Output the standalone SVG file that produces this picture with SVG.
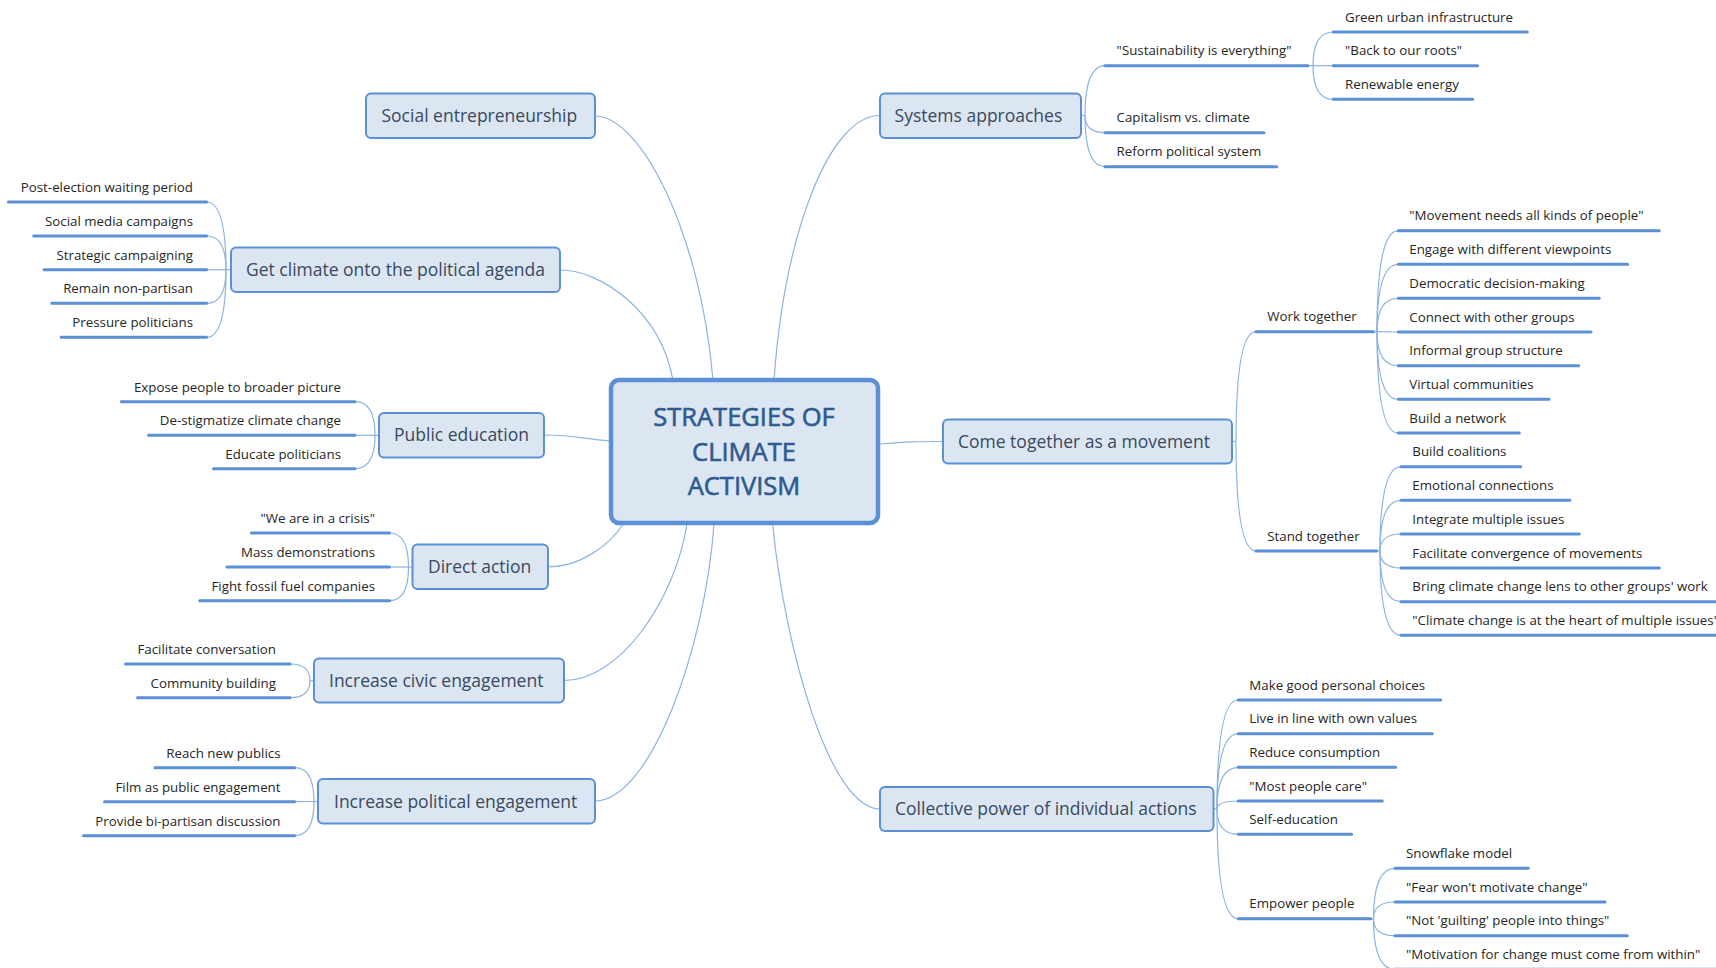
<svg xmlns="http://www.w3.org/2000/svg" width="1716" height="968" viewBox="0 0 1716 968">
<style>
text{font-family:"Open Sans","Liberation Sans",sans-serif}
.box{fill:#dce6f2;stroke:#5b8fd6;stroke-width:2}
.center{fill:#dce6f2;stroke:#5b8fd6;stroke-width:4.5}
.ct{font-size:25.5px;fill:#2e5b8f;stroke:#2e5b8f;stroke-width:0.6;text-anchor:middle}
.mt{font-size:17.5px;fill:#384960}
.lt{font-size:13.3px;fill:#262626}
.le{text-anchor:end}
.ul{stroke:#5b8fd6;stroke-width:3;stroke-linecap:round;fill:none}
.c{fill:none;stroke:#8db3e2;stroke-width:1.2}
</style>
<rect width="1716" height="968" fill="#ffffff"/>

<g id="connectors">
<path class="c" d="M595 116 C640 116 700 230 713 380"/>
<path class="c" d="M560 270 C600 270 660 310 673 380"/>
<path class="c" d="M544 435 C575 435 590 440 611 441"/>
<path class="c" d="M548 567 C580 567 610 545 623 524"/>
<path class="c" d="M564 680.5 C620 680.5 675 600 687 524"/>
<path class="c" d="M595 801 C650 801 705 650 714 524"/>
<path class="c" d="M880 115.5 C830 115.5 785 230 774 380"/>
<path class="c" d="M879 444 C910 441.5 915 441.5 943 441.5"/>
<path class="c" d="M880 809 C830 809 785 650 772.6 524"/>

<path class="c" d="M231 269.7 L226 269.7"/>
<path class="c" d="M226 269.7 Q226 202 206.6 202"/>
<path class="c" d="M226 269.7 Q226 236 206.6 236"/>
<path class="c" d="M226 269.7 L206.6 269.7"/>
<path class="c" d="M226 269.7 Q226 303.3 206.6 303.3"/>
<path class="c" d="M226 269.7 Q226 337.3 206.6 337.3"/>

<path class="c" d="M379 435.3 L375 435.3"/>
<path class="c" d="M375 435.3 Q375 401.7 355 401.7"/>
<path class="c" d="M375 435.3 L355 435.3"/>
<path class="c" d="M375 435.3 Q375 468.7 355 468.7"/>

<path class="c" d="M412.5 567 L408.5 567"/>
<path class="c" d="M408.5 567 Q408.5 533 389.5 533"/>
<path class="c" d="M408.5 567 L389.5 567"/>
<path class="c" d="M408.5 567 Q408.5 600.7 389.5 600.7"/>

<path class="c" d="M314 680.8 L310 680.8"/>
<path class="c" d="M310 680.8 Q310 664 290 664"/>
<path class="c" d="M310 680.8 Q310 697.7 290 697.7"/>

<path class="c" d="M318 801.5 L314 801.5"/>
<path class="c" d="M314 801.5 Q314 767.7 294.6 767.7"/>
<path class="c" d="M314 801.5 L294.6 801.7"/>
<path class="c" d="M314 801.5 Q314 835.7 294.6 835.7"/>

<path class="c" d="M1081 115.5 L1085 115.5"/>
<path class="c" d="M1085 115.5 Q1085 65.7 1105 65.7"/>
<path class="c" d="M1085 115.5 Q1085 132.7 1105 132.7"/>
<path class="c" d="M1085 115.5 Q1085 166.7 1105 166.7"/>

<path class="c" d="M1308 65.7 L1313 65.7"/>
<path class="c" d="M1313 65.7 Q1313 32 1333.3 32"/>
<path class="c" d="M1313 65.7 L1333.3 65.7"/>
<path class="c" d="M1313 65.7 Q1313 99.3 1333.3 99.3"/>

<path class="c" d="M1232 441.5 L1236 441.5"/>
<path class="c" d="M1236 441.5 Q1236 331.7 1256 331.7"/>
<path class="c" d="M1236 441.5 Q1236 551 1256 551"/>

<path class="c" d="M1373.3 331.7 L1377 331.7"/>
<path class="c" d="M1377 331.7 Q1377 230.7 1398.3 230.7"/>
<path class="c" d="M1377 331.7 Q1377 264.3 1398.3 264.3"/>
<path class="c" d="M1377 331.7 Q1377 298.3 1398.3 298.3"/>
<path class="c" d="M1377 331.7 L1398.3 332"/>
<path class="c" d="M1377 331.7 Q1377 365.7 1398.3 365.7"/>
<path class="c" d="M1377 331.7 Q1377 399.3 1398.3 399.3"/>
<path class="c" d="M1377 331.7 Q1377 433 1398.3 433"/>

<path class="c" d="M1376.7 551 L1380 551"/>
<path class="c" d="M1380 551 Q1380 466.7 1401 466.7"/>
<path class="c" d="M1380 551 Q1380 500.3 1401 500.3"/>
<path class="c" d="M1380 551 Q1380 534 1401 534"/>
<path class="c" d="M1380 551 Q1380 568 1401 568"/>
<path class="c" d="M1380 551 Q1380 601.7 1401 601.7"/>
<path class="c" d="M1380 551 Q1380 635.3 1401 635.3"/>

<path class="c" d="M1213.5 809 L1217 809"/>
<path class="c" d="M1217 809 Q1217 700 1238.3 700"/>
<path class="c" d="M1217 809 Q1217 733.7 1238.3 733.7"/>
<path class="c" d="M1217 809 Q1217 767.3 1238.3 767.3"/>
<path class="c" d="M1217 809 Q1217 801 1238.3 801"/>
<path class="c" d="M1217 809 Q1217 834.3 1238.3 834.3"/>
<path class="c" d="M1217 809 Q1217 918.7 1238.3 918.7"/>

<path class="c" d="M1370.7 918.7 L1373.5 918.7"/>
<path class="c" d="M1373.5 918.7 Q1373.5 868.3 1395 868.3"/>
<path class="c" d="M1373.5 918.7 Q1373.5 902 1395 902"/>
<path class="c" d="M1373.5 918.7 Q1373.5 935.7 1395 935.7"/>
<path class="c" d="M1373.5 918.7 Q1373.5 969.3 1395 969.3"/>
</g>

<g id="center">
<rect class="center" x="611" y="380" width="267" height="143" rx="8"/>
<text class="ct" x="744" y="425.5">STRATEGIES OF</text>
<text class="ct" x="744" y="460.5">CLIMATE</text>
<text class="ct" x="744" y="495">ACTIVISM</text>
</g>

<g id="n-social">
<rect class="box" x="366" y="93.5" width="229" height="44.5" rx="5"/>
<text class="mt" x="381.5" y="122">Social entrepreneurship</text>
</g>
<g id="n-agenda">
<rect class="box" x="231" y="247.5" width="329" height="44.5" rx="5"/>
<text class="mt" x="246" y="275.5">Get climate onto the political agenda</text>
</g>
<g id="n-public">
<rect class="box" x="379" y="413" width="165" height="44.5" rx="5"/>
<text class="mt" x="394" y="440.5">Public education</text>
</g>
<g id="n-direct">
<rect class="box" x="412.5" y="544.5" width="135.5" height="44.5" rx="5"/>
<text class="mt" x="428" y="572.5">Direct action</text>
</g>
<g id="n-civic">
<rect class="box" x="314" y="658.5" width="250" height="44" rx="5"/>
<text class="mt" x="329" y="686.5">Increase civic engagement</text>
</g>
<g id="n-political">
<rect class="box" x="318" y="779" width="277" height="44.5" rx="5"/>
<text class="mt" x="334" y="807.5">Increase political engagement</text>
</g>
<g id="n-systems">
<rect class="box" x="880" y="93.5" width="201" height="44.5" rx="5"/>
<text class="mt" x="894.6" y="122">Systems approaches</text>
</g>
<g id="n-movement">
<rect class="box" x="943" y="419.5" width="289" height="44" rx="5"/>
<text class="mt" x="958" y="447.5">Come together as a movement</text>
</g>
<g id="n-collective">
<rect class="box" x="880" y="787" width="333.5" height="44" rx="5"/>
<text class="mt" x="895" y="815">Collective power of individual actions</text>
</g>

<g id="l-agenda">
<path class="ul" d="M8.4 202H206.6M33.7 236H206.6M44 269.7H206.6M51.7 303.3H206.6M61.2 337.3H206.6"/>
<text class="lt le" x="193" y="192">Post-election waiting period</text>
<text class="lt le" x="193" y="226">Social media campaigns</text>
<text class="lt le" x="193" y="259.7">Strategic campaigning</text>
<text class="lt le" x="193" y="293.3">Remain non-partisan</text>
<text class="lt le" x="193" y="327.3">Pressure politicians</text>
</g>
<g id="l-public">
<path class="ul" d="M121.3 401.7H355M148.5 435.3H355M213.5 468.7H355"/>
<text class="lt le" x="341" y="391.7">Expose people to broader picture</text>
<text class="lt le" x="341" y="425.3">De-stigmatize climate change</text>
<text class="lt le" x="341" y="458.7">Educate politicians</text>
</g>
<g id="l-direct">
<path class="ul" d="M251.4 533H389.5M226.9 567H389.5M199.7 600.7H389.5"/>
<text class="lt le" x="375" y="523">"We are in a crisis"</text>
<text class="lt le" x="375" y="557">Mass demonstrations</text>
<text class="lt le" x="375" y="590.7">Fight fossil fuel companies</text>
</g>
<g id="l-civic">
<path class="ul" d="M125.5 664H290M137.5 697.7H290"/>
<text class="lt le" x="276" y="654">Facilitate conversation</text>
<text class="lt le" x="276" y="687.7">Community building</text>
</g>
<g id="l-political">
<path class="ul" d="M154.9 767.7H294.6M104.5 801.7H294.6M83.5 835.7H294.6"/>
<text class="lt le" x="280.5" y="757.7">Reach new publics</text>
<text class="lt le" x="280.5" y="791.7">Film as public engagement</text>
<text class="lt le" x="280.5" y="825.7">Provide bi-partisan discussion</text>
</g>

<g id="l-systems">
<path class="ul" d="M1105 65.7H1308M1105 132.7H1264M1105 166.7H1276.7"/>
<text class="lt" x="1116.6" y="55.2">"Sustainability is everything"</text>
<text class="lt" x="1116.6" y="122.2">Capitalism vs. climate</text>
<text class="lt" x="1116.6" y="156.2">Reform political system</text>
</g>
<g id="l-sustainability">
<path class="ul" d="M1333.3 32H1527.3M1333.3 65.7H1477.7M1333.3 99.3H1472.7"/>
<text class="lt" x="1345" y="21.5">Green urban infrastructure</text>
<text class="lt" x="1345" y="55.2">"Back to our roots"</text>
<text class="lt" x="1345" y="88.8">Renewable energy</text>
</g>
<g id="l-movement">
<path class="ul" d="M1256 331.7H1373.3M1256 551H1376.7"/>
<text class="lt" x="1267.3" y="321.2">Work together</text>
<text class="lt" x="1267.3" y="540.5">Stand together</text>
</g>
<g id="l-work">
<path class="ul" d="M1398.3 230.7H1659.3M1398.3 264.3H1627.7M1398.3 298.3H1599.3M1398.3 332H1591M1398.3 365.7H1578.7M1398.3 399.3H1549M1398.3 433H1519.3"/>
<text class="lt" x="1409.3" y="220.2">"Movement needs all kinds of people"</text>
<text class="lt" x="1409.3" y="253.8">Engage with different viewpoints</text>
<text class="lt" x="1409.3" y="287.8">Democratic decision-making</text>
<text class="lt" x="1409.3" y="321.5">Connect with other groups</text>
<text class="lt" x="1409.3" y="355.2">Informal group structure</text>
<text class="lt" x="1409.3" y="388.8">Virtual communities</text>
<text class="lt" x="1409.3" y="422.5">Build a network</text>
</g>
<g id="l-stand">
<path class="ul" d="M1401 466.7H1520.7M1401 500.3H1570M1401 534H1579.3M1401 568H1659.3M1401 601.7H1730M1401 635.3H1730"/>
<text class="lt" x="1412.3" y="456.2">Build coalitions</text>
<text class="lt" x="1412.3" y="489.8">Emotional connections</text>
<text class="lt" x="1412.3" y="523.5">Integrate multiple issues</text>
<text class="lt" x="1412.3" y="557.5">Facilitate convergence of movements</text>
<text class="lt" x="1412.3" y="591.2">Bring climate change lens to other groups' work</text>
<text class="lt" x="1412.3" y="624.8">"Climate change is at the heart of multiple issues"</text>
</g>
<g id="l-collective">
<path class="ul" d="M1238.3 700H1440.7M1238.3 733.7H1432.3M1238.3 767.3H1395.7M1238.3 801H1382.3M1238.3 834.3H1351.7M1238.3 918.7H1370.7"/>
<text class="lt" x="1249.3" y="689.5">Make good personal choices</text>
<text class="lt" x="1249.3" y="723.2">Live in line with own values</text>
<text class="lt" x="1249.3" y="756.8">Reduce consumption</text>
<text class="lt" x="1249.3" y="790.5">"Most people care"</text>
<text class="lt" x="1249.3" y="823.8">Self-education</text>
<text class="lt" x="1249.3" y="908.2">Empower people</text>
</g>
<g id="l-empower">
<path class="ul" d="M1395 868.3H1528.3M1395 902H1605M1395 935.7H1627.3M1395 969.3H1730"/>
<text class="lt" x="1406" y="857.8">Snowflake model</text>
<text class="lt" x="1406" y="891.5">"Fear won't motivate change"</text>
<text class="lt" x="1406" y="925.2">"Not 'guilting' people into things"</text>
<text class="lt" x="1406" y="958.8">"Motivation for change must come from within"</text>
</g>
</svg>
